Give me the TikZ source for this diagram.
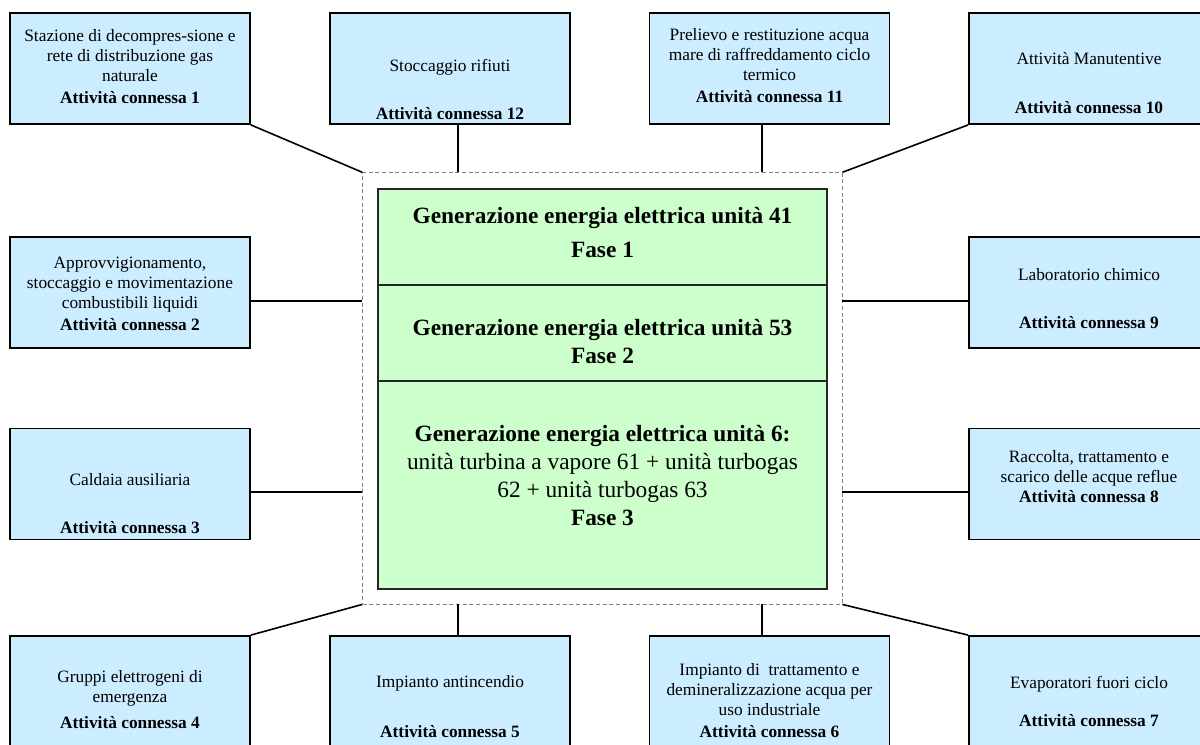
\documentclass[tikz,border=0pt]{standalone}
\usepackage{fontspec}
\setmainfont{Liberation Serif}
\usepackage{tikz}
\usetikzlibrary{calc}
\definecolor{actblue}{RGB}{204,236,255}
\definecolor{phasegreen}{RGB}{204,255,204}
\newcommand{\actbox}[5]{\node[actbox] (#1) at (#2,#3) {}; \node[acttext] (#1t) at (#2,#4) {#5};}

\begin{document}
\begin{tikzpicture}[x=0.75pt,y=-0.75pt,
    actbox/.style={draw,fill=actblue,line width=1.4pt,minimum width=180pt,minimum height=83.25pt,inner sep=0pt},
    acttext/.style={align=center,font=\fontsize{13}{15}\selectfont,inner sep=0pt},
    phase/.style={draw=black!85,fill=phasegreen,line width=1.4pt,minimum width=336.75pt,inner sep=0pt},
    phasetext/.style={align=center,font=\fontsize{17.5}{21}\selectfont\bfseries,inner sep=0pt},
    link/.style={line width=1.2pt}]
        \useasboundingbox (0,0) rectangle (1200,744);
        \clip (0,0) rectangle (1200,744);
    %frame and phases
    \node[draw=gray,densely dashed,line width=0.6pt,minimum width=359.5pt,minimum height=323.5pt,inner sep=0pt] (frame) at (602.35,388.35) {};
    \node[phase,minimum height=72pt] (p1) at (602.5,237) {};
    \node[phase,minimum height=72pt] (p2) at (602.5,333) {};
    \node[phase,minimum height=156pt] (p3) at (602.5,485) {};
    \node[phasetext] (p1t) at (602.5,232.5) {Generazione energia elettrica unità 41\\[5pt]Fase 1};
    \node[phasetext] (p2t) at (602.5,341.5) {Generazione energia elettrica unità 53\\Fase 2};
    \node[phasetext] (p3t) at (602.5,475) {Generazione energia elettrica unità 6:\\\mdseries unità turbina a vapore 61 + unità turbogas\\\mdseries 62 + unità turbogas 63\\Fase 3};
    %activities
    \actbox{a1}{130}{68.5}{66.7}{Stazione di decompres-sione e\\rete di distribuzione gas\\naturale\\[1.5pt]\textbf{Attività connessa 1}}
    \actbox{a12}{450}{68.5}{89}{Stoccaggio rifiuti\\[21pt]\textbf{Attività connessa 12}}
    \actbox{a11}{769.5}{68.5}{66}{Prelievo e restituzione acqua\\mare di raffreddamento ciclo\\termico\\[1.5pt]\textbf{Attività connessa 11}}
    \actbox{a10}{1089}{68.5}{83}{Attività Manutentive\\[22pt]\textbf{Attività connessa 10}}
    \actbox{a2}{130}{292.5}{294}{Approvvigionamento,\\stoccaggio e movimentazione\\combustibili liquidi\\[1.5pt]\textbf{Attività connessa 2}}
    \actbox{a9}{1089}{292.5}{299}{Laboratorio chimico\\[21pt]\textbf{Attività connessa 9}}
    \actbox{a3}{130}{484}{504}{Caldaia ausiliaria\\[21pt]\textbf{Attività connessa 3}}
    \actbox{a8}{1089}{484}{477}{Raccolta, trattamento e\\scarico delle acque reflue\\\textbf{Attività connessa 8}}
    \actbox{a4}{130}{691.5}{699.5}{Gruppi elettrogeni di\\emergenza\\[5pt]\textbf{Attività connessa 4}}
    \actbox{a5}{450}{691.5}{706.5}{Impianto antincendio\\[22pt]\textbf{Attività connessa 5}}
    \actbox{a6}{769.5}{691.5}{700.5}{Impianto di\ \ trattamento e\\demineralizzazione acqua per\\uso industriale\\[1.5pt]\textbf{Attività connessa 6}}
    \actbox{a7}{1089}{691.5}{701.5}{Evaporatori fuori ciclo\\[13pt]\textbf{Attività connessa 7}}
    %links
    \draw[link] (a1.south east) -- (frame.north west);
    \draw[link] (a10.south west) -- (frame.north east);
    \draw[link] (a4.north east) -- (frame.south west);
    \draw[link] (a7.north west) -- (frame.south east);
    \foreach \nm/\yy in {2/301,3/492} {
        \coordinate (f\nm) at (frame.west |- 0,\yy);
        \draw[link] (f\nm) -- (f\nm -| a\nm.east);}
    \foreach \nm/\yy in {9/301,8/492} {
        \coordinate (f\nm) at (frame.east |- 0,\yy);
        \draw[link] (f\nm) -- (f\nm -| a\nm.west);}
    \foreach \nm/\xx in {12/458,11/762} {
        \coordinate (f\nm) at (\xx,0 |- frame.north);
        \draw[link] (f\nm) -- (f\nm |- a\nm.south);}
    \foreach \nm/\xx in {5/458,6/762} {
        \coordinate (f\nm) at (\xx,0 |- frame.south);
        \draw[link] (f\nm) -- (f\nm |- a\nm.north);}
\end{tikzpicture}
\end{document}
